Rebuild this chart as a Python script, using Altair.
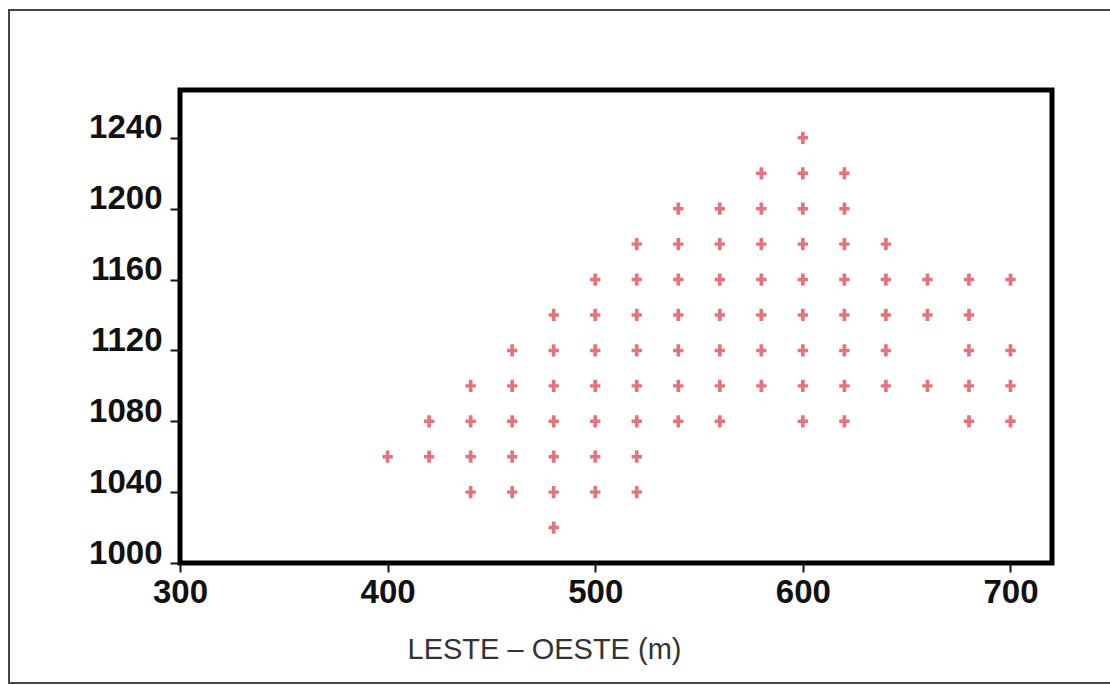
import altair as alt
import pandas as pd

# Grid points (LESTE - OESTE, NORTE - SUL)
cols_x = [400, 420, 440, 460, 480, 500, 520, 540, 560, 580, 600, 620, 640, 660, 680, 700]
cols_y = [
    [1060],
    [1080, 1060],
    [1100, 1080, 1060, 1040],
    [1120, 1100, 1080, 1060, 1040],
    [1140, 1120, 1100, 1080, 1060, 1040, 1020],
    [1160, 1140, 1120, 1100, 1080, 1060, 1040],
    [1180, 1160, 1140, 1120, 1100, 1080, 1060, 1040],
    [1200, 1180, 1160, 1140, 1120, 1100, 1080],
    [1200, 1180, 1160, 1140, 1120, 1100, 1080],
    [1220, 1200, 1180, 1160, 1140, 1120, 1100],
    [1240, 1220, 1200, 1180, 1160, 1140, 1120, 1100, 1080],
    [1220, 1200, 1180, 1160, 1140, 1120, 1100, 1080],
    [1180, 1160, 1140, 1120, 1100],
    [1160, 1140, 1100],
    [1160, 1140, 1120, 1100, 1080],
    [1160, 1120, 1100, 1080],
]
x_ticks = [300, 400, 500, 600, 700]
y_ticks = [1000, 1040, 1080, 1120, 1160, 1200, 1240]

rows = []
for x, ys in zip(cols_x, cols_y):
    for y in ys:
        rows.append({"x": x, "y": y})
df = pd.DataFrame(rows)

W, H = 872, 473
PL, PT = 180, 90

plus_path = ("M-0.3,-1H0.3V-0.28H0.85V0.28H0.3V1H-0.3V0.28H-0.85V-0.28H-0.3Z")

points = alt.Chart(df).mark_point(
    shape=plus_path, filled=True, size=150, color="#e6737a", opacity=1
).encode(
    x=alt.X("x:Q",
            scale=alt.Scale(domain=[300, 720], nice=False, zero=False),
            axis=alt.Axis(values=x_ticks, format="d", title="LESTE \u2013 OESTE (m)",
                          labelFont="Liberation Sans", labelFontWeight="bold",
                          labelFontSize=33, labelColor="#111",
                          labelBaseline="top", labelPadding=4,
                          tickSize=9, tickWidth=2, tickColor="#111",
                          domain=False, grid=False, labelFlush=False,
                          titleFont="Liberation Sans", titleFontWeight="normal",
                          titleFontSize=29, titleColor="#333",
                          titleX=364, titleY=95, titleAlign="center",
                          titleBaseline="alphabetic", titleAnchor="start")),
    y=alt.Y("y:Q",
            scale=alt.Scale(domain=[1000, 1267], nice=False, zero=False),
            axis=alt.Axis(values=y_ticks, format="d", title=None,
                          labelFont="Liberation Sans", labelFontWeight="bold",
                          labelFontSize=33, labelColor="#111",
                          labelBaseline="alphabetic", labelPadding=8,
                          tickSize=10, tickWidth=2, tickColor="#111",
                          domain=False, grid=False, labelFlush=False)),
)

frame_df = pd.DataFrame({"k": [0]})
outer = alt.Chart(frame_df).mark_rect(
    filled=False, stroke="#444", strokeWidth=2
).encode(
    x=alt.value(-(PL - 9)), x2=alt.value(1110 - PL + 20),
    y=alt.value(-(PT - 10)), y2=alt.value(683 - PT),
)

chart = alt.layer(outer, points).properties(
    width=W, height=H,
    autosize=alt.AutoSizeParams(type="none"),
    padding={"left": PL, "top": PT, "right": 1110 - PL - W, "bottom": 685 - PT - H},
    background="white",
).configure_view(
    stroke="#000", strokeWidth=5
)

chart.save("out.html", embed_options={"renderer": "svg", "actions": False})
